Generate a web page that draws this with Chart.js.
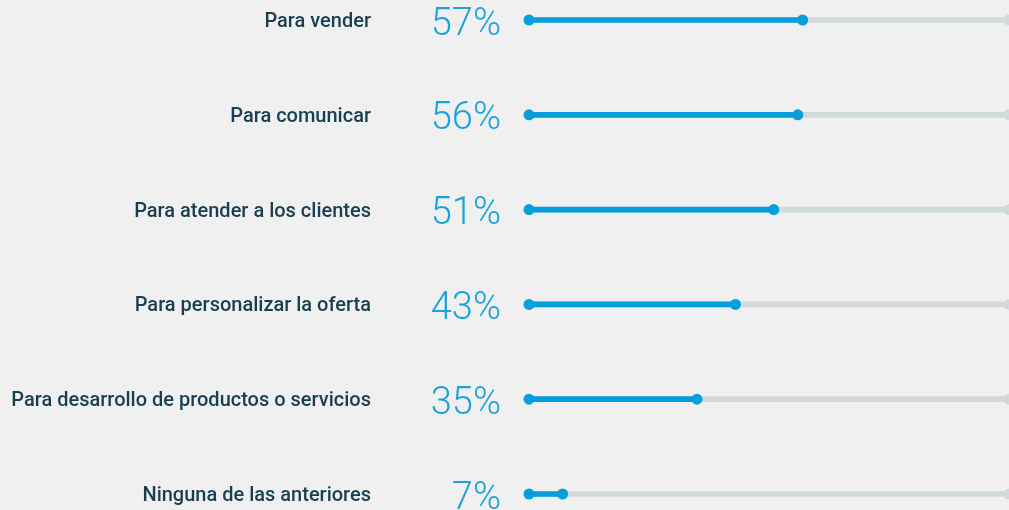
<!DOCTYPE html>
<html>
<head>
<meta charset="utf-8">
<script src="https://cdn.jsdelivr.net/npm/chart.js@4/dist/chart.umd.min.js"></script>
<style>
  html, body { margin: 0; padding: 0; background: #f0f0f0; }
  #wrap { width: 1009px; height: 510px; position: relative; }
</style>
</head>
<body>
<div id="wrap"><canvas id="chart"></canvas></div>
<script>
const categories = [
  'Para vender',
  'Para comunicar',
  'Para atender a los clientes',
  'Para personalizar la oferta',
  'Para desarrollo de productos o servicios',
  'Ninguna de las anteriores'
];
const values = [57, 56, 51, 43, 35, 7];
const pctLabels = values.map(v => v + '%');
const trackMax = 100;

const blue = '#039fdd';
const grey = '#d2d9dc';

const ctx = document.getElementById('chart');

// fixed axis width, no extra padding from edge labels
function fixAxis(width) {
  return s => {
    s.width = width;
    s.paddingTop = 0;
    s.paddingBottom = 0;
  };
}

function dots(data, color, order) {
  return {
    type: 'line',
    data: data,
    showLine: false,
    pointRadius: 5.5,
    pointHoverRadius: 5.5,
    pointBorderWidth: 0,
    pointBackgroundColor: color,
    clip: false,
    order: order
  };
}

new Chart(ctx, {
  type: 'bar',
  data: {
    labels: categories,
    datasets: [
      dots(categories.map(() => 0), blue, 1),
      dots(values, blue, 1),
      dots(categories.map(() => trackMax), grey, 2),
      {
        data: values,
        backgroundColor: blue,
        barThickness: 5,
        grouped: false,
        clip: false,
        order: 3
      },
      {
        data: categories.map(() => trackMax),
        backgroundColor: grey,
        barThickness: 5,
        grouped: false,
        clip: false,
        order: 4
      }
    ]
  },
  options: {
    indexAxis: 'y',
    responsive: true,
    maintainAspectRatio: false,
    animation: false,
    layout: { autoPadding: false, padding: { top: 20, bottom: 16, left: 0, right: 0 } },
    plugins: { legend: { display: false }, tooltip: { enabled: false } },
    scales: {
      x: {
        min: 0,
        max: trackMax,
        display: false
      },
      y: {
        type: 'category',
        position: 'left',
        weight: 1,
        offset: false,
        grid: { display: false, drawTicks: false },
        border: { display: false },
        ticks: {
          color: '#173f4f',
          font: { family: 'Roboto', size: 20, weight: '500' },
          padding: 9,
          labelOffset: 2
        },
        afterFit: fixAxis(380)
      },
      y2: {
        type: 'category',
        labels: pctLabels,
        position: 'left',
        weight: 0,
        offset: false,
        grid: { display: false, drawTicks: false },
        border: { display: false },
        ticks: {
          color: '#1ba2dd',
          font: { family: 'Roboto', size: 38, weight: '300' },
          padding: 28,
          labelOffset: 5
        },
        afterFit: fixAxis(149)
      }
    }
  }
});
</script>
</body>
</html>
